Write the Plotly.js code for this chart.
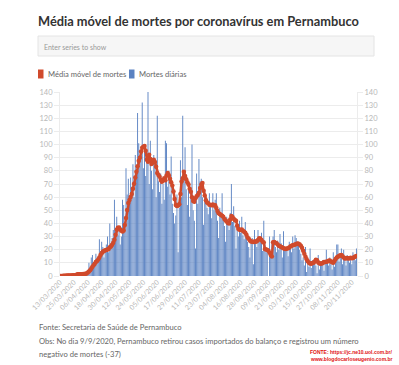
<!DOCTYPE html>
<html>
<head>
<meta charset="utf-8">
<script src="https://cdn.plot.ly/plotly-3.0.1.min.js"></script>
<style>
html,body{margin:0;padding:0;background:#fff;}
#chart{width:399px;height:365px;}
</style>
</head>
<body>
<div id="chart"></div>
<script>
// ---- Data ----
const startDate = '2020-03-13';   // first day of the series
const dailyDeaths = [
  0,0,0,1,0,0,1,0,1,0, 0,1,0,0,1,1,2,1,2,1,
  3,2,2,3,4,10,6,14,16,9, 12,17,11,15,28,19,26,22,14,20,
  24,30,18,40,25,29,35,58,34,45, 31,36,24,30,58,54,40,82,62,74,
  55,75,68,85,60,92,78,124,101,88, 96,132,82,98,76,95,140,70,103,80,
  66,92,85,60,122,72,64,78,55,70, 58,103,101,68,80,62,91,55,48,40,
  46,62,18,52,88,60,122,74,98,66, 54,71,45,63,100,50,42,21,78,55,
  89,72,74,60,39,66,58,52,47,63, 55,44,63,50,58,63,42,29,52,48,
  63,44,38,26,45,40,35,48,70,41, 53,38,21,36,30,42,33,45,31,28,
  41,30,26,22,14,25,29,9,35,27, 22,35,30,28,33,19,42,24,18,20,
  -37,30,16,26,30,35,22,18,27,20, 32,25,14,34,22,19,21,15,26,24,
  18,30,21,31,29,26,24,20,17,12, 14,8,22,3,10,7,21,6,12,9,
  13,8,2,16,5,11,9,12,4,10, 20,13,8,14,9,5,18,7,14,24,
  24,11,16,21,9,20,14,8,16,12, 10,13,9,18,15,12,21
];
const movingAvg = [
  0,0,0,0.1,0.1,0.1,0.3,0.3,0.4,0.4, 0.4,0.6,0.6,0.6,0.7,1.3,1.4,1.4,1.4,1.4,
  1.6,1.6,1.7,1.9,2.6,3.4,4.4,5.7,7.0,8.1, 9.3,10.6,11.4,12.6,14.0,15.9,17.3,18.4,19.1,19.6,
  19.7,20.1,20.6,21.9,22.4,23.7,25.3,27.6,31.3,35.1, 36.7,36.9,35.4,34.4,33.9,34.6,38.8,44.1,50.3,55.6,
  57.9,60.1,62.4,66.3,70.1,74.9,79.4,83.6,87.7,89.9, 94.7,97.6,98.4,98.9,95.3,88.4,86.9,92.3,89.1,85.3,
  86.1,88.4,86.7,83.1,78.4,76.9,75.6,73.1,71.7,72.6, 74.3,72.9,76.4,78.3,76.6,73.9,71.4,68.9,64.3,58.6,
  54.1,53.3,53.7,54.6,62.3,71.9,74.3,79.4,76.1,73.7, 71.3,69.6,66.4,64.1,60.0,57.1,56.4,59.1,60.7,61.6,
  63.4,66.9,69.6,70.7,64.9,61.3,57.6,55.9,55.3,54.3, 54.1,53.9,54.4,53.6,53.9,51.7,49.4,47.7,47.1,46.4,
  45.9,45.1,43.4,42.3,41.4,40.3,40.0,42.9,45.6,44.9, 43.6,42.7,42.1,38.3,36.0,35.1,35.0,35.3,34.4,33.6,
  32.9,31.3,29.3,28.4,27.1,26.3,26.1,25.9,26.3,26.1, 26.4,27.3,28.7,28.6,27.3,26.0,25.4,20.6,20.1,19.7,
  19.3,17.6,16.0,14.9,25.6,25.9,25.3,24.9,24.0,23.1, 22.6,22.1,21.6,21.1,20.7,20.6,21.0,21.1,21.6,22.4,
  23.1,23.4,23.6,23.9,24.3,24.7,24.6,23.9,23.0,21.4, 19.3,16.9,14.6,12.7,11.3,10.1,9.6,9.4,9.9,10.1,
  11.0,12.4,11.9,10.3,9.7,9.4,9.6,9.9,10.6,10.7, 10.9,11.1,11.6,11.7,11.0,10.4,10.1,11.4,12.9,14.1,
  14.7,15.3,15.7,16.0,15.1,14.1,13.4,13.6,13.7,13.3, 13.6,13.9,13.6,13.7,14.3,14.9,15.3
];
const tickDates = ['2020-03-13','2020-03-25','2020-04-06','2020-04-18','2020-04-30','2020-05-12',
  '2020-05-24','2020-06-05','2020-06-17','2020-06-29','2020-07-11','2020-07-23','2020-08-04',
  '2020-08-16','2020-08-28','2020-09-09','2020-09-21','2020-10-03','2020-10-15','2020-10-27',
  '2020-11-08','2020-11-20'];
const seriesNames = ['Média móvel de mortes', 'Mortes diárias'];
const titleText = 'Média móvel de mortes por coronavírus em Pernambuco';
const footerLines = ['Fonte: Secretaria de Saúde de Pernambuco',
  'Obs: No dia 9/9/2020, Pernambuco retirou casos importados do balanço e registrou um número',
  'negativo de mortes (-37)'];
const creditLines = ['FONTE: https://jc.ne10.uol.com.br/', 'www.blogdocarloseugenio.com.br'];

// ---- Build date categories ----
const dates = [];
const t0 = Date.parse(startDate + 'T00:00:00Z');
for (let i = 0; i < dailyDeaths.length; i++) {
  dates.push(new Date(t0 + i * 864e5).toISOString().slice(0, 10));
}
const lastDate = dates[dates.length - 1];

// ---- Styles ----
const RED = '#d04a2c';
const BLUE = '#5a82c2';
const FONT = 'Lato, "Open Sans", sans-serif';
const W = 399, H = 365;
const M = {l: 60, r: 42, t: 92, b: 89};
const PW = W - M.l - M.r, PH = H - M.t - M.b;
const px = x => (x - M.l) / PW;          // pixel -> paper x
const py = y => (H - M.b - y) / PH;      // pixel -> paper y

const traces = [
  {
    type: 'bar', x: dates, y: dailyDeaths, name: seriesNames[1],
    marker: {color: BLUE, line: {width: 0}}, hoverinfo: 'x+y'
  },
  {
    type: 'scatter', mode: 'lines+markers', x: dates, y: movingAvg, name: seriesNames[0],
    line: {color: RED, width: 2.5}, marker: {color: RED, size: 4.5}, hoverinfo: 'x+y'
  },
  {
    type: 'scatter', x: [dates[0]], y: [0], yaxis: 'y2', mode: 'markers',
    marker: {opacity: 0}, hoverinfo: 'skip', showlegend: false
  }
];

const shapes = [
  // search box
  {type: 'rect', xref: 'paper', yref: 'paper', x0: px(38), x1: px(374), y0: py(36), y1: py(56),
   fillcolor: '#f6f6f6', line: {color: '#e4e4e4', width: 1}, layer: 'above'},
  // legend swatches
  {type: 'rect', xref: 'paper', yref: 'paper', x0: px(38), x1: px(43.5), y0: py(69.5), y1: py(78.5),
   fillcolor: RED, line: {width: 0}},
  {type: 'rect', xref: 'paper', yref: 'paper', x0: px(129), x1: px(134.5), y0: py(69.5), y1: py(78.5),
   fillcolor: BLUE, line: {width: 0}}
];

const ann = (x, y, text, opts) => Object.assign({
  xref: 'paper', yref: 'paper', x: px(x), y: py(y), text: text, showarrow: false,
  xanchor: 'left', yanchor: 'middle', font: {family: FONT, size: 7.6, color: '#666'}
}, opts || {});

const FOOT = {family: FONT, size: 7.6, color: '#666'};
const annotations = [
  ann(42, 46.5, 'Enter series to show', {font: {family: FONT, size: 7, color: '#999'}}),
  ann(45.5, 74, seriesNames[0]),
  ann(136.5, 74, seriesNames[1]),
  ann(37, 327, footerLines[0], {font: FOOT}),
  ann(37, 340.5, footerLines[1], {font: FOOT}),
  ann(37, 353.5, footerLines[2], {font: FOOT}),
  ann(395, 352, '<b>' + creditLines[0] + '</b>', {xanchor: 'right', font: {family: 'Liberation Sans, sans-serif', size: 5, color: '#e01010'}}),
  ann(395, 358.5, '<b>' + creditLines[1] + '</b>', {xanchor: 'right', font: {family: 'Liberation Sans, sans-serif', size: 5, color: '#e01010'}})
];

const yCommon = {
  range: [0, 140], dtick: 10, tick0: 0, fixedrange: true,
  tickfont: {family: FONT, size: 7.5, color: '#b8b8b8'},
  ticks: 'outside', ticklen: 5, tickcolor: '#ececec', tickwidth: 1,
  showline: true, linecolor: '#ececec', linewidth: 1, zeroline: false
};

const layout = {
  width: W, height: H,
  margin: M,
  paper_bgcolor: '#fff', plot_bgcolor: '#fff',
  showlegend: false,
  bargap: 0.2,
  title: {
    text: '<b>' + titleText + '</b>',
    x: 38 / W, xanchor: 'left', xref: 'container',
    y: 1 - 21.5 / H, yanchor: 'middle', yref: 'container',
    font: {family: FONT, size: 12.8, color: '#333'}
  },
  xaxis: {
    type: 'date',
    range: [startDate + ' 00:00', lastDate + ' 12:00'],
    tickvals: tickDates, tickformat: '%d/%m/%Y', tickangle: -45,
    tickfont: {family: FONT, size: 7, color: '#b8b8b8'},
    showgrid: false, ticks: '', showline: false, zeroline: false, fixedrange: true
  },
  yaxis: Object.assign({}, yCommon, {side: 'left', showgrid: true, gridcolor: '#ececec', gridwidth: 1}),
  yaxis2: Object.assign({}, yCommon, {side: 'right', overlaying: 'y', showgrid: false}),
  shapes: shapes,
  annotations: annotations
};

Plotly.newPlot('chart', traces, layout, {displayModeBar: false, staticPlot: true});
</script>
</body>
</html>
